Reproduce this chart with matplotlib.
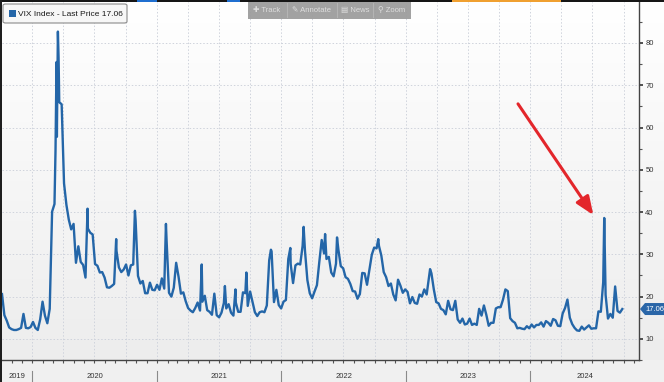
import numpy as np
import pandas as pd
import matplotlib
matplotlib.use('Agg')
import matplotlib.pyplot as plt
import matplotlib.dates as mdates
from matplotlib import transforms
from matplotlib.patches import FancyBboxPatch, Rectangle, Polygon
from matplotlib.colors import LinearSegmentedColormap
from matplotlib.ticker import MultipleLocator

plt.rcParams['font.family'] = ['Liberation Sans', 'DejaVu Sans']

# weekly (Friday) closes
v2019 = [20.6, 15.6, 14.3, 12.7, 12.3, 12.1, 12.1, 12.3, 12.6, 15.9, 12.6, 12.5, 12.8]
v2020 = [14.0, 12.6, 12.1, 14.6, 18.8, 15.5, 13.7, 17.1, 40.1, 41.9, 57.8, 66.0, 65.5,
         46.8, 41.7, 38.2, 35.9, 37.2, 28.0, 31.9, 28.2, 27.5, 24.5, 36.1, 35.1, 34.7,
         27.7, 27.3, 25.7, 25.8, 24.5, 22.2, 22.1, 22.5, 23.0, 30.8, 26.9, 25.8, 26.4,
         27.6, 25.0, 27.4, 27.6, 38.0, 24.9, 23.1, 23.7, 20.8, 20.8, 23.3, 21.6, 21.5]
v2021 = [22.8, 21.6, 24.3, 21.9, 33.1, 20.9, 20.0, 22.1, 28.0, 24.7, 20.7, 21.0, 18.9,
         17.3, 16.7, 16.3, 17.3, 18.6, 16.7, 18.8, 20.2, 16.8, 16.4, 15.7, 20.7, 15.6,
         15.1, 16.2, 18.5, 17.2, 18.2, 16.2, 15.5, 18.6, 16.4, 16.4, 21.0, 20.8, 17.8,
         21.2, 18.8, 16.3, 15.4, 16.3, 16.5, 16.3, 17.9, 28.6, 30.7, 18.7, 21.6, 18.0, 17.2]
v2022 = [18.8, 19.2, 28.9, 27.7, 23.2, 27.4, 27.8, 27.6, 32.0, 30.8, 23.9, 20.8, 19.6,
         21.2, 22.7, 28.2, 33.4, 30.2, 28.9, 29.4, 25.7, 24.8, 27.8, 31.1, 27.2, 26.7,
         24.6, 24.2, 23.0, 21.3, 21.2, 19.5, 20.6, 25.6, 25.5, 22.8, 26.3, 29.9, 31.6,
         31.4, 32.0, 29.7, 25.8, 24.6, 22.5, 23.1, 20.5, 19.1, 24.0, 22.6, 20.9, 21.7]
v2023 = [21.1, 18.4, 19.9, 18.5, 18.3, 20.5, 20.0, 21.7, 20.5, 24.8, 25.5, 21.7, 18.7,
         18.4, 17.1, 16.8, 15.8, 19.0, 17.0, 16.8, 19.0, 14.6, 13.8, 14.8, 13.4, 13.6,
         14.8, 13.3, 13.6, 13.3, 17.1, 15.5, 17.9, 15.7, 13.1, 13.8, 13.8, 17.2, 17.5,
         17.5, 19.3, 21.7, 21.3, 14.9, 14.2, 13.8, 12.5, 12.6, 12.4, 12.3, 13.0, 12.5]
v2024 = [13.4, 12.7, 13.3, 13.3, 13.9, 12.9, 14.2, 13.8, 13.1, 14.7, 14.4, 13.1, 13.0,
         16.0, 17.3, 19.3, 15.0, 13.5, 12.6, 12.0, 11.9, 12.9, 12.2, 12.7, 13.2, 12.4,
         12.5, 12.5, 16.5, 16.4, 23.4, 20.4, 14.8, 15.9, 15.0, 22.4, 16.6, 16.2, 17.06]
year_starts = ['2019-10-04', '2020-01-03', '2021-01-01', '2022-01-07', '2023-01-06', '2024-01-05']

# intraweek spikes
spike_dates = ['2020-03-09', '2020-03-12', '2020-03-16', '2020-03-18', '2020-06-11',
               '2020-09-03', '2020-10-28', '2021-01-27', '2021-05-12', '2021-07-19',
               '2021-08-19', '2021-09-20', '2021-12-01', '2022-01-27', '2022-03-07',
               '2022-05-09', '2022-06-13', '2022-10-12', '2023-03-13', '2024-08-05']
spike_vals = [54.5, 75.5, 82.7, 76.5, 40.8, 33.6, 40.3, 37.2, 27.6, 22.5,
              21.7, 25.7, 31.1, 31.5, 36.5, 34.8, 34.0, 33.6, 26.5, 38.6]

year_labels = ['2019', '2020', '2021', '2022', '2023', '2024']
last_price = 17.06

parts = []
for start, vals in zip(year_starts, [v2019, v2020, v2021, v2022, v2023, v2024]):
    parts.append(pd.Series(vals, index=pd.date_range(start, periods=len(vals), freq='W-FRI')))
parts.append(pd.Series(spike_vals, index=pd.to_datetime(spike_dates)))
vix = pd.concat(parts).sort_index()

W, H = 664, 382
def fx(px):
    return px / W
def fy(py):
    return 1 - py / H

fig = plt.figure(figsize=(6.64, 3.82), dpi=100, facecolor='#f0f0f0')

# background gradient
bg = fig.add_axes([0, fy(360), 1, (360 - 2) / H], zorder=0)
cmap = LinearSegmentedColormap.from_list('bgg', ['#ffffff', '#ededed'])
bg.imshow(np.linspace(0, 1, 200)[:, None], aspect='auto', cmap=cmap, extent=[0, 1, 0, 1])
bg.set_axis_off()

ax = fig.add_axes([fx(2), fy(360), fx(639) - fx(2), (360 - 2) / H], zorder=1)
ax.set_facecolor('none')

x0 = pd.Timestamp('2019-10-04')
x1 = pd.Timestamp('2024-11-15')

for v in range(10, 90, 10):
    ax.axhline(v, color='#cfd3dc', lw=0.7, ls=(0, (1.5, 2)), zorder=0)
for q in pd.date_range('2020-01-01', '2024-10-01', freq='QS'):
    ax.axvline(q, color='#cfd3dc', lw=0.7, ls=(0, (1.5, 2)), zorder=0)

ax.plot(vix.index, vix.values, color='#2466a8', lw=1.7, zorder=3)

ax.annotate('', xy=(pd.Timestamp('2024-07-04'), 39.3), xytext=(pd.Timestamp('2023-11-26'), 65.6),
            arrowprops=dict(arrowstyle='-|>,head_length=1.1,head_width=0.45', color='#e3262b',
                            lw=2.2, mutation_scale=10, shrinkA=0, shrinkB=0), zorder=4)

ax.set_xlim(x0, x1)
ax.set_ylim(5.0, 89.7)

for s in ['left', 'top']:
    ax.spines[s].set_visible(False)
for s in ['right', 'bottom']:
    ax.spines[s].set_color('#444444')
    ax.spines[s].set_linewidth(1.0)

ax.yaxis.tick_right()
ax.set_yticks(range(10, 90, 10))
ax.yaxis.set_minor_locator(MultipleLocator(5))
ax.tick_params(axis='y', which='major', length=3, width=1.2, color='#333333',
               labelsize=5.5, labelcolor='#333333', pad=1.5, direction='out')
ax.tick_params(axis='y', which='minor', length=2, width=0.8, color='#555555', direction='out')

ax.xaxis.set_major_locator(mdates.MonthLocator())
ax.tick_params(axis='x', which='major', length=2.5, width=0.8, color='#555555',
               labelbottom=False, direction='out')

# year band under the axis
trans = transforms.blended_transform_factory(ax.transData, fig.transFigure)
bounds = [mdates.date2num(x0)] + [mdates.date2num(pd.Timestamp(f'{y}-01-01')) for y in year_labels[1:]] \
         + [mdates.date2num(x1)]
for b in bounds[1:-1]:
    ax.plot([b, b], [fy(371), fy(382)], transform=trans, color='#8a8a8a', lw=0.8, clip_on=False)
for i, lab in enumerate(year_labels):
    ax.text((bounds[i] + bounds[i + 1]) / 2, fy(377), lab, transform=trans, ha='center',
            va='center', fontsize=5.5, color='#333333', clip_on=False)
ax.set_xlim(x0, x1)
ax.set_ylim(5.0, 89.7)

# last price tag on the right axis, at the last value
tt = transforms.blended_transform_factory(fig.transFigure, ax.transData)
dy = 6 * 84.7 / 358
tag = Polygon([(fx(640), last_price), (fx(645), last_price + dy), (fx(664), last_price + dy),
               (fx(664), last_price - dy), (fx(645), last_price - dy)], closed=True,
              transform=tt, facecolor='#2a66a8', edgecolor='none', zorder=5, clip_on=False)
ax.add_patch(tag)
ax.text(fx(654.5), last_price, f'{last_price:.2f}', transform=tt, fontsize=5.5, color='white',
        ha='center', va='center', zorder=6, clip_on=False)

# legend box
fig.patches.append(FancyBboxPatch((fx(3), fy(23)), fx(124), fy(4) - fy(23),
                                  boxstyle='round,pad=0,rounding_size=0.004', transform=fig.transFigure,
                                  facecolor='#f7f7f7', edgecolor='#8a8a8a', lw=0.8, zorder=5))
fig.patches.append(Rectangle((fx(9), fy(17)), fx(6.5), fy(10.5) - fy(17), transform=fig.transFigure,
                             facecolor='#2466a8', edgecolor='none', zorder=6))
fig.text(fx(18), fy(14), f'VIX Index - Last Price {last_price:.2f}', fontsize=6, color='#1a1a1a',
         ha='left', va='center', zorder=7)

# toolbar overlay
fig.patches.append(Rectangle((fx(248), fy(19)), fx(163), fy(2) - fy(19), transform=fig.transFigure,
                             facecolor='#9d9d9d', edgecolor='none', alpha=0.95, zorder=5))
for sx in [287, 337, 373]:
    fig.patches.append(Rectangle((fx(sx), fy(18)), fx(1), fy(3) - fy(18), transform=fig.transFigure,
                                 facecolor='#b4b4b4', edgecolor='none', zorder=6))
for tx, label in [(267, '✚ Track'), (312, '✎ Annotate'), (355, '▤ News'), (392, '⚲ Zoom')]:
    fig.text(fx(tx), fy(10.5), label, fontsize=5.5, color='#dedede', ha='center', va='center', zorder=7)

# window chrome
fig.patches.append(Rectangle((0, fy(2)), 1, fy(0) - fy(2), transform=fig.transFigure,
                             facecolor='#161616', edgecolor='none', zorder=8))
for a, b, c in [(137, 157, '#1f6fd0'), (227, 240, '#1f6fd0'), (452, 561, '#f0a030')]:
    fig.patches.append(Rectangle((fx(a), fy(2)), fx(b - a), fy(0) - fy(2), transform=fig.transFigure,
                                 facecolor=c, edgecolor='none', zorder=9))
fig.patches.append(Rectangle((0, 0), fx(2), 1, transform=fig.transFigure,
                             facecolor='#1e1e1e', edgecolor='none', zorder=8))

fig.savefig('out.png', dpi=100, facecolor=fig.get_facecolor())
